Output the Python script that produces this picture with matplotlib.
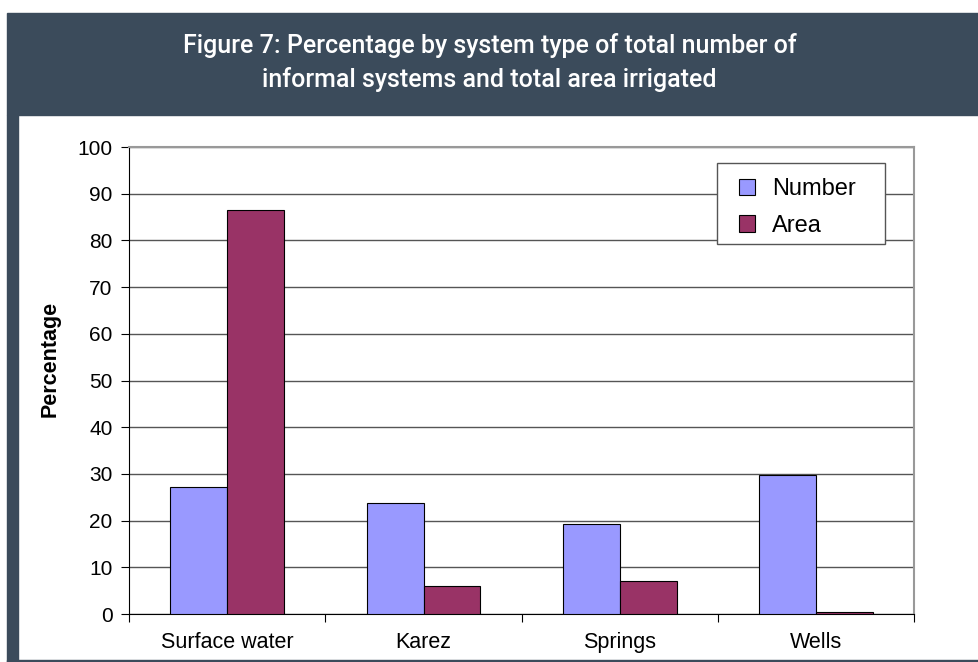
import numpy as np
import matplotlib.pyplot as plt
from matplotlib.patches import Rectangle

# data
categories = ['Surface water', 'Karez', 'Springs', 'Wells']
number_pct = [27.1, 23.7, 19.3, 29.8]
area_pct = [86.5, 6.1, 7.0, 0.4]
yticks = list(range(0, 101, 10))

dark = '#3b4b5b'
fig = plt.figure(figsize=(9.79, 6.62), dpi=100)

# header band and frame strips
fig.patches.append(Rectangle((7 / 979, 1 - 115 / 662), 1, 102 / 662,
                             transform=fig.transFigure, color=dark, zorder=0))
fig.patches.append(Rectangle((7 / 979, 0), 11 / 979, 1 - 115 / 662,
                             transform=fig.transFigure, color=dark, zorder=0))
fig.patches.append(Rectangle((7 / 979, 0), 1, 2.5 / 662,
                             transform=fig.transFigure, color=dark, zorder=0))
fig.text(0.5, 1 - 45 / 662, 'Figure 7: Percentage by system type of total number of',
         ha='center', va='center', color='white', fontsize=18, family='Roboto', fontweight='medium')
fig.text(0.5, 1 - 80 / 662, 'informal systems and total area irrigated',
         ha='center', va='center', color='white', fontsize=18, family='Roboto', fontweight='medium')

ax = fig.add_axes([129.3 / 979, 48 / 662, (914 - 129.3) / 979, (614 - 147) / 662])
x = np.arange(len(categories))
w = 0.29
ax.bar(x, number_pct, width=-w, align='edge', color='#9999ff',
       edgecolor='black', linewidth=0.8, label='Number', zorder=3)
ax.bar(x, area_pct, width=w, align='edge', color='#993366',
       edgecolor='black', linewidth=0.8, label='Area', zorder=3)

ax.set_xlim(-0.5, len(categories) - 0.5)
ax.set_ylim(0, 100)
ax.set_yticks(yticks)
ax.yaxis.grid(True, color='#555555', linewidth=1)
ax.set_axisbelow(True)
ax.set_xticks(np.arange(-0.5, len(categories), 1))
ax.set_xticklabels([])
ax.set_xticks(x, minor=True)
ax.set_xticklabels(categories, minor=True, fontsize=15.5, family='Liberation Sans')
ax.tick_params(axis='x', which='minor', length=0, pad=13)
ax.tick_params(axis='x', which='major', length=6, direction='out')
ax.tick_params(axis='y', length=6, direction='out', labelsize=15, pad=6)
for lab in ax.get_yticklabels():
    lab.set_family('Liberation Sans')
ax.set_ylabel('Percentage', fontsize=15.5, fontweight='bold', family='Liberation Sans')
ax.yaxis.set_label_coords(-0.101, 0.546)
ax.yaxis.label.set_va('center')
ax.spines['top'].set_color('#999999')
ax.spines['right'].set_color('#999999')
ax.spines['top'].set_linewidth(1.5)
ax.spines['right'].set_linewidth(1.5)

# legend box drawn by hand, entries placed inside it
ax.add_patch(Rectangle((717 / 979, 1 - 244 / 662), 168 / 979, 81 / 662,
                       transform=fig.transFigure, facecolor='white',
                       edgecolor='#555555', linewidth=1, zorder=5, clip_on=False))
leg = ax.legend(loc='upper left', bbox_to_anchor=(717 / 979, 1 - 156 / 662),
                bbox_transform=fig.transFigure, frameon=False,
                prop={'family': 'Liberation Sans', 'size': 17},
                handlelength=0.68, handleheight=0.68, borderpad=0.93, labelspacing=0.63,
                handletextpad=0.72, borderaxespad=0)
leg.set_zorder(6)

fig.savefig('out.png', dpi=100)
